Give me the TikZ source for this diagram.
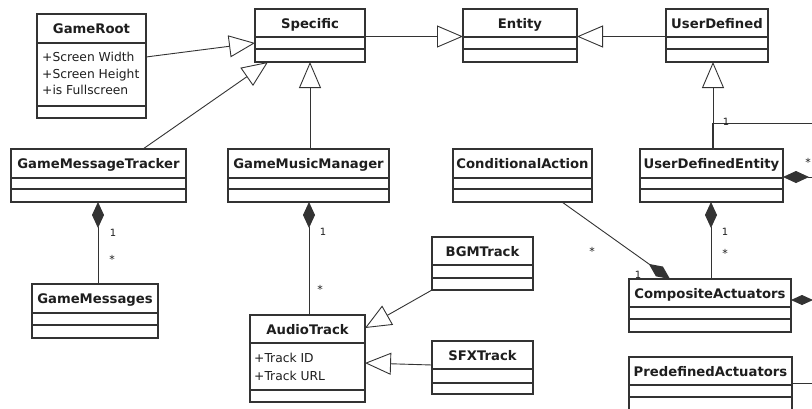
\documentclass[tikz,border=0pt]{standalone}
\usepackage{fontspec}
\setmainfont{DejaVu Sans}
\usetikzlibrary{arrows.meta,calc}
\definecolor{linec}{HTML}{333333}
\definecolor{textc}{HTML}{1E1E1E}
\tikzset{
 umlbox/.style={draw=linec, line width=1.1pt, inner sep=0pt, outer sep=0pt, anchor=north west},
 sepline/.style={draw=linec, line width=1.1pt},
 titletext/.style={font=\bfseries\fontsize{13.2}{14}\selectfont, inner sep=0pt, text=textc, anchor=base},
 attrtext/.style={font=\fontsize{12.3}{14}\selectfont, inner sep=0pt, anchor=base west, text=textc},
 conn/.style={draw=linec, line width=0.9pt},
 gen/.style={conn, -{Triangle[open, length=26pt, width=22pt]}},
 comp/.style={conn, {Diamond[length=26pt, width=12pt]}-},
 comprev/.style={conn, -{Diamond[length=26pt, width=12pt]}},
 mult/.style={font=\fontsize{10}{11}\selectfont, inner sep=0pt, text=textc},
 star/.style={font=\fontsize{11}{12}\selectfont, inner sep=0pt, text=textc, yshift=-3pt},
}
\newcommand{\umlclass}[8]{%
 \node[umlbox, minimum width=#4pt-#2pt, minimum height=#5pt-#3pt] (#1) at (#2,#3) {};
 \draw[sepline] (#2,#6) -- (#4,#6);
 \draw[sepline] (#2,#7) -- (#4,#7);
 \node[titletext] (#1-title) at ({(#2+#4)/2},{(#3+#6)/2+5}) {#8};
}
\begin{document}
\begin{tikzpicture}[x=1pt,y=-1pt]
\clip (0,0) rectangle (812,408);
\fill[white] (0,0) rectangle (812,408);
% classes
\umlclass{gr}{37}{14}{146}{118}{43}{106}{GameRoot}
\node[attrtext] (gr-a1) at (42,61.7) {+Screen Width};
\node[attrtext] (gr-a2) at (42,78) {+Screen Height};
\node[attrtext] (gr-a3) at (42,94.3) {+is Fullscreen};
\umlclass{spec}{255}{9}{365}{62}{37}{49}{Specific}
\umlclass{ent}{463}{9}{577}{62}{37}{49}{Entity}
\umlclass{ud}{666}{9}{768}{62}{37}{49}{UserDefined}
\umlclass{gmt}{11}{149}{186}{202}{178}{189}{GameMessageTracker}
\umlclass{gmm}{228}{149}{389}{202}{178}{189}{GameMusicManager}
\umlclass{ca}{453}{149}{592}{202}{178}{189}{ConditionalAction}
\umlclass{ude}{640}{149}{783}{202}{178}{189}{UserDefinedEntity}
\umlclass{gms}{32}{284}{158}{338}{313}{325}{GameMessages}
\umlclass{bgm}{432}{237}{533}{290}{265}{278}{BGMTrack}
\umlclass{at}{250}{315}{365}{402}{343}{390}{AudioTrack}
\node[attrtext] (at-a1) at (254,362.7) {+Track ID};
\node[attrtext] (at-a2) at (254,380) {+Track URL};
\umlclass{sfx}{432}{341}{533}{394}{369}{383}{SFXTrack}
\umlclass{cact}{629}{279}{791}{332}{307}{319}{CompositeActuators}
\umlclass{pa}{629}{357}{792}{414}{385}{397}{PredefinedActuators}
% free ends at the right edge
\coordinate (e1) at (813,123);
\coordinate (e2) at (813,177);
\coordinate (e3) at (813,300);
\coordinate (e4) at (813,383);
% generalizations
\draw[gen] ($(gr.north east)+(0,43)$) -- ($(spec.north west)+(0,34)$);
\draw[gen] ($(gmt.north west)+(132,0)$) -- ($(spec.south west)+(13,0)$);
\draw[gen] ($(gmm.north west)+(82,0)$) -- ($(spec.south west)+(55,0)$);
\draw[gen] ($(spec.north east)+(0,27.5)$) -- ($(ent.north west)+(0,27.5)$);
\draw[gen] ($(ud.north west)+(0,27.5)$) -- ($(ent.north east)+(0,27.5)$);
\draw[gen] ($(ude.north west)+(73,0)$) -- ($(ud.south west)+(47,0)$);
\draw[gen] (bgm.south west) -- ($(at.north east)+(0,13)$);
\draw[gen] ($(sfx.north west)+(0,24)$) -- ($(at.north east)+(0,48)$);
% self association
\draw[conn] ($(ude.north west)+(72,0)$) |- (e1);
\node[mult] (m1) at (726,122) {1};
% compositions
\draw[comp] ($(ude.north east)+(0,28)$) -- (e2);
\node[star] (m2) at (808,159) {*};
\draw[comp] ($(gmt.south west)+(87,0)$) -- ($(gms.north west)+(66,0)$);
\node[mult] (m3) at (113,233) {1};
\node[star] (m4) at (112,256) {*};
\draw[comp] ($(gmm.south west)+(81,0)$) -- ($(at.north west)+(59,0)$);
\node[mult] (m5) at (323,232) {1};
\node[star] (m6) at (320,286) {*};
\draw[comp] ($(ude.south west)+(71,0)$) -- ($(cact.north west)+(82,0)$);
\node[mult] (m7) at (725,232) {1};
\node[star] (m8) at (725,250) {*};
\draw[comprev] ($(ca.south west)+(109,0)$) -- ($(cact.north west)+(41,0)$);
\node[star] (m9) at (592,248) {*};
\node[mult] (m10) at (638,275) {1};
\draw[conn, {Diamond[length=22pt, width=10pt]}-] ($(cact.north east)+(0,21)$) -- (e3);
\draw[conn] ($(pa.north east)+(0,26)$) -- (e4);
\end{tikzpicture}
\end{document}
